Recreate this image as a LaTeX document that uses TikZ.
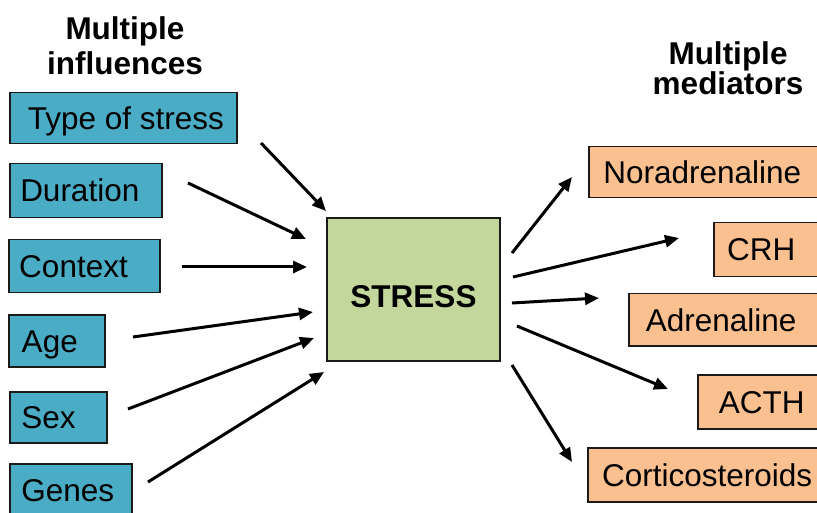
\documentclass[tikz,border=0pt]{standalone}
\usepackage{fontspec}
\setmainfont{Liberation Sans}
\usetikzlibrary{arrows.meta}
\definecolor{inflc}{HTML}{4BACC6}
\definecolor{medc}{HTML}{FAC090}
\definecolor{strc}{HTML}{C3D69B}
\definecolor{edgec}{HTML}{1A1A1A}
\begin{document}
\begin{tikzpicture}[x=1pt,y=-1pt,
  box/.style={draw=edgec, line width=1.5pt, inner sep=0pt, anchor=north west,
    font=\fontsize{31.5}{36}\selectfont, text height=22.5pt, text depth=0pt},
  infl/.style={box, fill=inflc},
  medi/.style={box, fill=medc},
  head/.style={anchor=north, inner sep=0pt, align=center},
  arr/.style={line width=3pt, -{Triangle[length=14pt,width=12pt]}}]
\useasboundingbox (0,0) rectangle (817,513);
\clip (0,0) rectangle (817,513);
% headings (first baseline = top + 25pt)
\node[head, font=\fontsize{31.5}{35}\selectfont\bfseries] (h1) at (125,14)
  {\rule{0pt}{25pt}Multiple\\influences};
\node[head, font=\fontsize{31.5}{28}\selectfont\bfseries] (h2) at (728,39)
  {\rule{0pt}{25pt}Multiple\\mediators};
% influences
\node[infl, minimum height=51pt] (type) at (9,92) {\makebox[227pt][l]{\hspace{18pt}Type of stress}};
\node[infl, minimum height=54pt] (dur) at (9,163) {\makebox[152pt][l]{\hspace{10.5pt}Duration}};
\node[infl, minimum height=53pt] (ctx) at (8,239) {\makebox[151pt][l]{\hspace{10.5pt}Context}};
\node[infl, minimum height=52pt] (age) at (8,314) {\makebox[96pt][l]{\hspace{13pt}Age}};
\node[infl, minimum height=51pt] (sex) at (9,391) {\makebox[97pt][l]{\hspace{11.5pt}Sex}};
\node[infl, minimum height=52pt] (genes) at (9,463) {\makebox[122pt][l]{\hspace{11.5pt}Genes}};
% stress
\node[draw=edgec, line width=1.5pt, fill=strc, minimum width=173pt, minimum height=143pt,
  inner sep=0pt, font=\fontsize{31.5}{36}\selectfont\bfseries, text height=35.6pt, text depth=0pt]
  (stress) at (413.5,289.5) {STRESS};
% mediators
\node[medi, minimum height=51pt] (nor) at (588,146) {\makebox[234pt][l]{\hspace{14.6pt}Noradrenaline}};
\node[medi, minimum height=54pt] (crh) at (713,222) {\makebox[109pt][l]{\hspace{13.4pt}CRH}};
\node[medi, minimum height=52pt] (adr) at (628,293) {\makebox[194pt][l]{\hspace{17pt}Adrenaline}};
\node[medi, minimum height=54pt] (acth) at (697,374) {\makebox[125pt][l]{\hspace{21pt}ACTH}};
\node[medi, minimum height=54pt] (cort) at (587,447) {\makebox[235pt][l]{\hspace{14.4pt}Corticosteroids}};
% arrow end points
\coordinate (s1) at (261,143); \coordinate (e1) at (326,211);
\coordinate (s2) at (188,183); \coordinate (e2) at (306,239);
\coordinate (s3) at (182,267); \coordinate (e3) at (307,267);
\coordinate (s4) at (133,337); \coordinate (e4) at (313,312);
\coordinate (s5) at (128,409); \coordinate (e5) at (314,338);
\coordinate (s6) at (148,482); \coordinate (e6) at (324,372);
\coordinate (t1) at (512,253); \coordinate (f1) at (572,177);
\coordinate (t2) at (513,277); \coordinate (f2) at (679,238);
\coordinate (t3) at (512,303); \coordinate (f3) at (599,298);
\coordinate (t4) at (517,326); \coordinate (f4) at (668,389);
\coordinate (t5) at (512,365); \coordinate (f5) at (572,462);
\foreach \i in {1,...,6} {\draw[arr] (s\i) -- (e\i);}
\foreach \i in {1,...,5} {\draw[arr] (t\i) -- (f\i);}
\end{tikzpicture}
\end{document}
